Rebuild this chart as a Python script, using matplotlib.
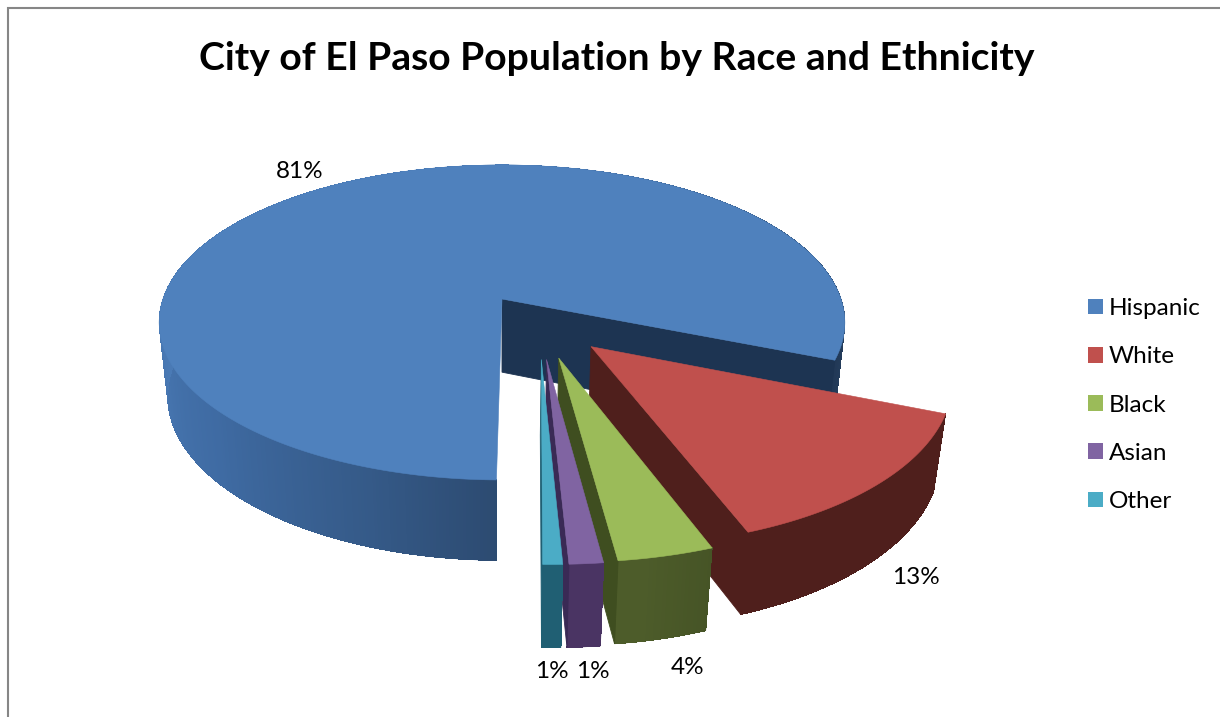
import numpy as np
import matplotlib
matplotlib.use("Agg")
import matplotlib.pyplot as plt
from matplotlib.colors import to_rgb
from matplotlib.patches import Patch

# ---- data ----
categories = ["Hispanic", "White", "Black", "Asian", "Other"]
values = [80.7, 13.3, 3.7, 1.3, 0.75]

# ---- style ----
title = "City of El Paso Population by Race and Ethnicity"
explode = [0.176, 0.207, 0.222, 0.225, 0.225]
top_colors = ["#4F81BD", "#C0504D", "#9BBB59", "#8064A2", "#4BACC6"]
cut_colors = ["#1D3452", "#4F1F1C", "#3F4E20", "#3A2A55", "#1F5F73"]
rim_stops = [
    [(0, "#2C4A70"), (20, "#355A88"), (50, "#3F6BA3"), (90, "#4A7AB5"), (180, "#4A7AB5"), (265, "#2A4566"), (300, "#1F3552")],
    [(0, "#4F1F1C"), (360, "#4F1F1C")],
    [(330, "#3F4C22"), (350, "#4D5C2A")],
    [(0, "#4A3463"), (360, "#4A3463")],
    [(0, "#205F73"), (360, "#205F73")],
]
label_xy = [(300, 171), (916, 578), (688, 667), (593, 671), (552, 671)]

# projection of the pie disc on to the page (pixels)
CX, CY, A, B, K, H, Q = 502.0, 299.0, 339.0, 154.0, 0.149, 75.0, 0.025
START = 0.8
SLICE_NUDGE = 0.010

def project(u, v, z=0.0):
    u, v = np.asarray(u, float), np.asarray(v, float)
    w = 1 + K * v + Q * z
    return CX + A * u / w, CY + (-B * v + H * z) / w

def unit(theta):
    t = np.radians(theta)
    return -np.sin(t), -np.cos(t)

def shade(stops, theta):
    xs = [s[0] for s in stops]
    cs = np.array([to_rgb(s[1]) for s in stops])
    return tuple(np.interp(theta, xs, cs[:, i]) for i in range(3))

fig = plt.figure(figsize=(12.2, 7.17), dpi=100)
ax = fig.add_axes([0, 0, 1, 1])
ax.set_xlim(0, 1220)
ax.set_ylim(717, 0)
ax.axis("off")
plt.rcParams["font.family"] = ["Lato", "DejaVu Sans"]

# frame (top and left only are in the picture)
ax.plot([8, 8, 1220], [717, 8, 8], color="#868686", lw=1.5, solid_joinstyle="miter")

shares = np.array(values) / np.sum(values) * 360
edges = START + np.concatenate([[0], np.cumsum(shares)])
first_mid = (edges[0] + edges[1]) / 2
shift = -explode[0] * np.array(unit(first_mid))

for i in range(len(values)):
    t0, t1 = edges[i], edges[i + 1]
    mid = (t0 + t1) / 2
    du, dv = unit(mid)
    ou, ov = shift[0] + explode[i] * du, shift[1] + explode[i] * dv
    if i > 0:
        ou += SLICE_NUDGE
    th = np.linspace(t0, t1, max(int((t1 - t0) * 2), 8))
    ru, rv = unit(th)
    ru, rv = ru + ou, rv + ov

    # outer wall: smooth silhouette underneath, seamless strips on top
    x0, y0 = project(ru, rv, 0)
    x1, y1 = project(ru, rv, 1)
    ax.fill(np.r_[x0, x1[::-1]], np.r_[y0, y1[::-1]], color=shade(rim_stops[i], 60 if i == 0 else mid), lw=0.3)
    for j in range(len(th) - 1):
        c = shade(rim_stops[i], (th[j] + th[j + 1]) / 2)
        ax.fill(np.r_[x0[j:j + 2], x1[j:j + 2][::-1]], np.r_[y0[j:j + 2], y1[j:j + 2][::-1]],
                color=c, lw=0, antialiased=False)

    # cut wall along the trailing edge
    su, sv = np.array([ou, ru[-1]]), np.array([ov, rv[-1]])
    x0, y0 = project(su, sv, 0)
    x1, y1 = project(su, sv, 1)
    ax.fill(np.r_[x0, x1[::-1]], np.r_[y0, y1[::-1]], color=cut_colors[i], lw=0.6)

    # top face
    x, y = project(np.r_[ou, ru], np.r_[ov, rv], 0)
    ax.fill(x, y, color=top_colors[i], lw=0.4)

ax.text(617, 59, title, ha="center", va="center", fontsize=28.2, fontweight="bold", color="black")

for v, (lx, ly) in zip(values, label_xy):
    ax.text(lx, ly, f"{v:.0f}%", ha="center", va="center", fontsize=17.5, color="black")

handles = [Patch(facecolor=c, edgecolor="none", label=n) for c, n in zip(top_colors, categories)]
ax.legend(handles=handles, loc="center left", bbox_to_anchor=(1081, 405), bbox_transform=ax.transData,
          frameon=False, fontsize=17.5, handlelength=0.62, handleheight=0.62, handletextpad=0.22,
          labelspacing=1.12, borderaxespad=0, borderpad=0.3, labelcolor="black")

fig.savefig("out.png", dpi=100, facecolor="white")
